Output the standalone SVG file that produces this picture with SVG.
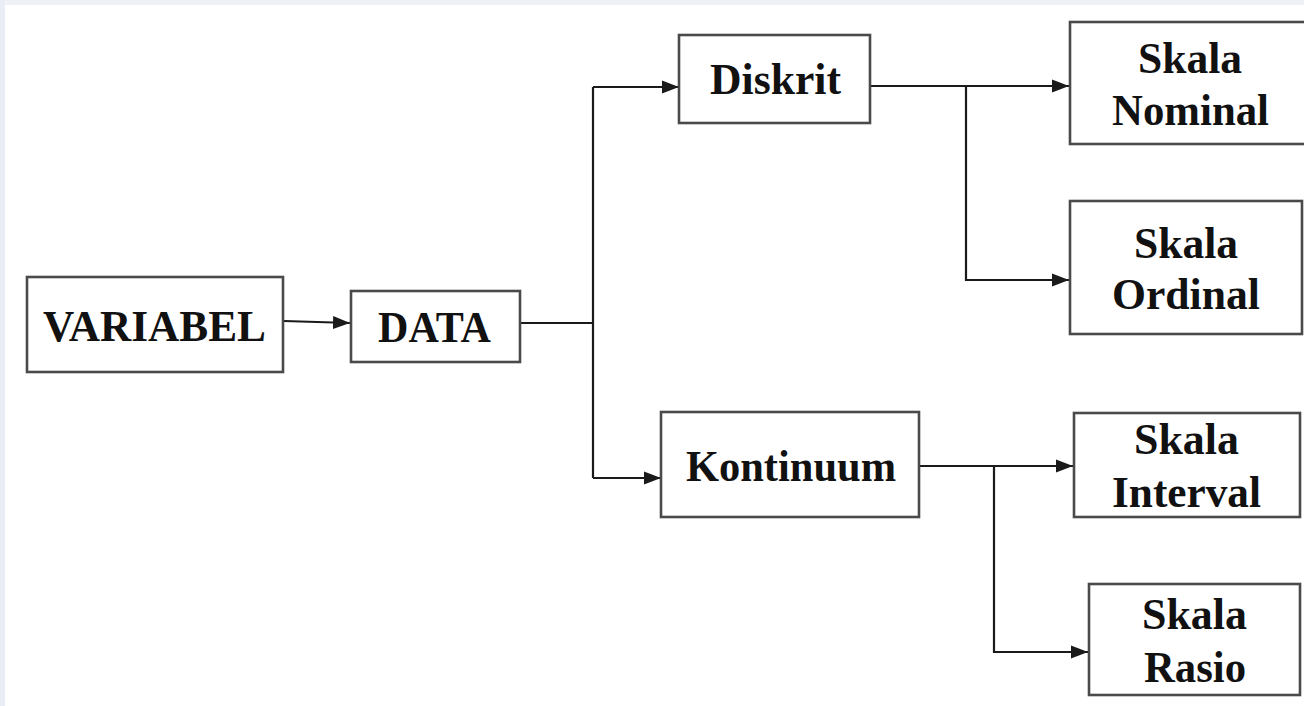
<svg xmlns="http://www.w3.org/2000/svg" width="1304" height="706" viewBox="0 0 1304 706">
<style>
.box{fill:#ffffff;stroke:#4a4a4a;stroke-width:2.6}
.lbl{font-family:"Liberation Serif","Times New Roman",serif;font-weight:bold;font-size:44px;fill:#111;text-anchor:middle}
.con{fill:none;stroke:#1a1a1a;stroke-width:2.2}
</style>
<defs>
<marker id="arr" markerUnits="userSpaceOnUse" markerWidth="17" markerHeight="14" refX="17" refY="7" orient="auto">
<path d="M0,0.5 L17,7 L0,13.5 z" fill="#1a1a1a"/>
</marker>
</defs>
<rect x="0" y="0" width="1304" height="706" fill="#ffffff"/>
<rect x="0" y="0" width="1304" height="5" fill="#eef1f6"/>
<rect x="0" y="0" width="5" height="706" fill="#e9edf5"/>

<g id="connectors">
<path class="con" d="M284,321 L350,323" marker-end="url(#arr)"/>
<path class="con" d="M520,323 H593"/>
<path class="con" d="M593,87 V478"/>
<path class="con" d="M593,87 H679" marker-end="url(#arr)"/>
<path class="con" d="M593,478 H661" marker-end="url(#arr)"/>
<path class="con" d="M870,86 H1069" marker-end="url(#arr)"/>
<path class="con" d="M966,86 V280 H1069" marker-end="url(#arr)"/>
<path class="con" d="M919,466 H1073" marker-end="url(#arr)"/>
<path class="con" d="M994,466 V652 H1088" marker-end="url(#arr)"/>
</g>

<g id="variabel">
<rect class="box" x="27" y="277" width="256" height="95"/>
<text class="lbl" x="154.5" y="341" textLength="223" lengthAdjust="spacingAndGlyphs">VARIABEL</text>
</g>
<g id="data">
<rect class="box" x="351" y="291" width="169" height="71"/>
<text class="lbl" x="434.5" y="342" textLength="113" lengthAdjust="spacingAndGlyphs">DATA</text>
</g>
<g id="diskrit">
<rect class="box" x="679" y="35" width="191" height="88"/>
<text class="lbl" x="775.5" y="94" textLength="131" lengthAdjust="spacingAndGlyphs">Diskrit</text>
</g>
<g id="kontinuum">
<rect class="box" x="661" y="412" width="258" height="105"/>
<text class="lbl" x="791" y="481" textLength="210" lengthAdjust="spacingAndGlyphs">Kontinuum</text>
</g>
<g id="skala-nominal">
<rect class="box" x="1070" y="22" width="250" height="122"/>
<text class="lbl" x="1190" y="73" textLength="104" lengthAdjust="spacingAndGlyphs">Skala</text>
<text class="lbl" x="1190.5" y="125" textLength="157" lengthAdjust="spacingAndGlyphs">Nominal</text>
</g>
<g id="skala-ordinal">
<rect class="box" x="1070" y="201" width="232" height="133"/>
<text class="lbl" x="1186" y="258" textLength="104" lengthAdjust="spacingAndGlyphs">Skala</text>
<text class="lbl" x="1186" y="309" textLength="148" lengthAdjust="spacingAndGlyphs">Ordinal</text>
</g>
<g id="skala-interval">
<rect class="box" x="1074" y="413" width="226" height="104"/>
<text class="lbl" x="1186.5" y="454" textLength="105" lengthAdjust="spacingAndGlyphs">Skala</text>
<text class="lbl" x="1186.5" y="507" textLength="149" lengthAdjust="spacingAndGlyphs">Interval</text>
</g>
<g id="skala-rasio">
<rect class="box" x="1089" y="584" width="211" height="111"/>
<text class="lbl" x="1194.5" y="629" textLength="105" lengthAdjust="spacingAndGlyphs">Skala</text>
<text class="lbl" x="1195" y="682" textLength="102" lengthAdjust="spacingAndGlyphs">Rasio</text>
</g>
</svg>
